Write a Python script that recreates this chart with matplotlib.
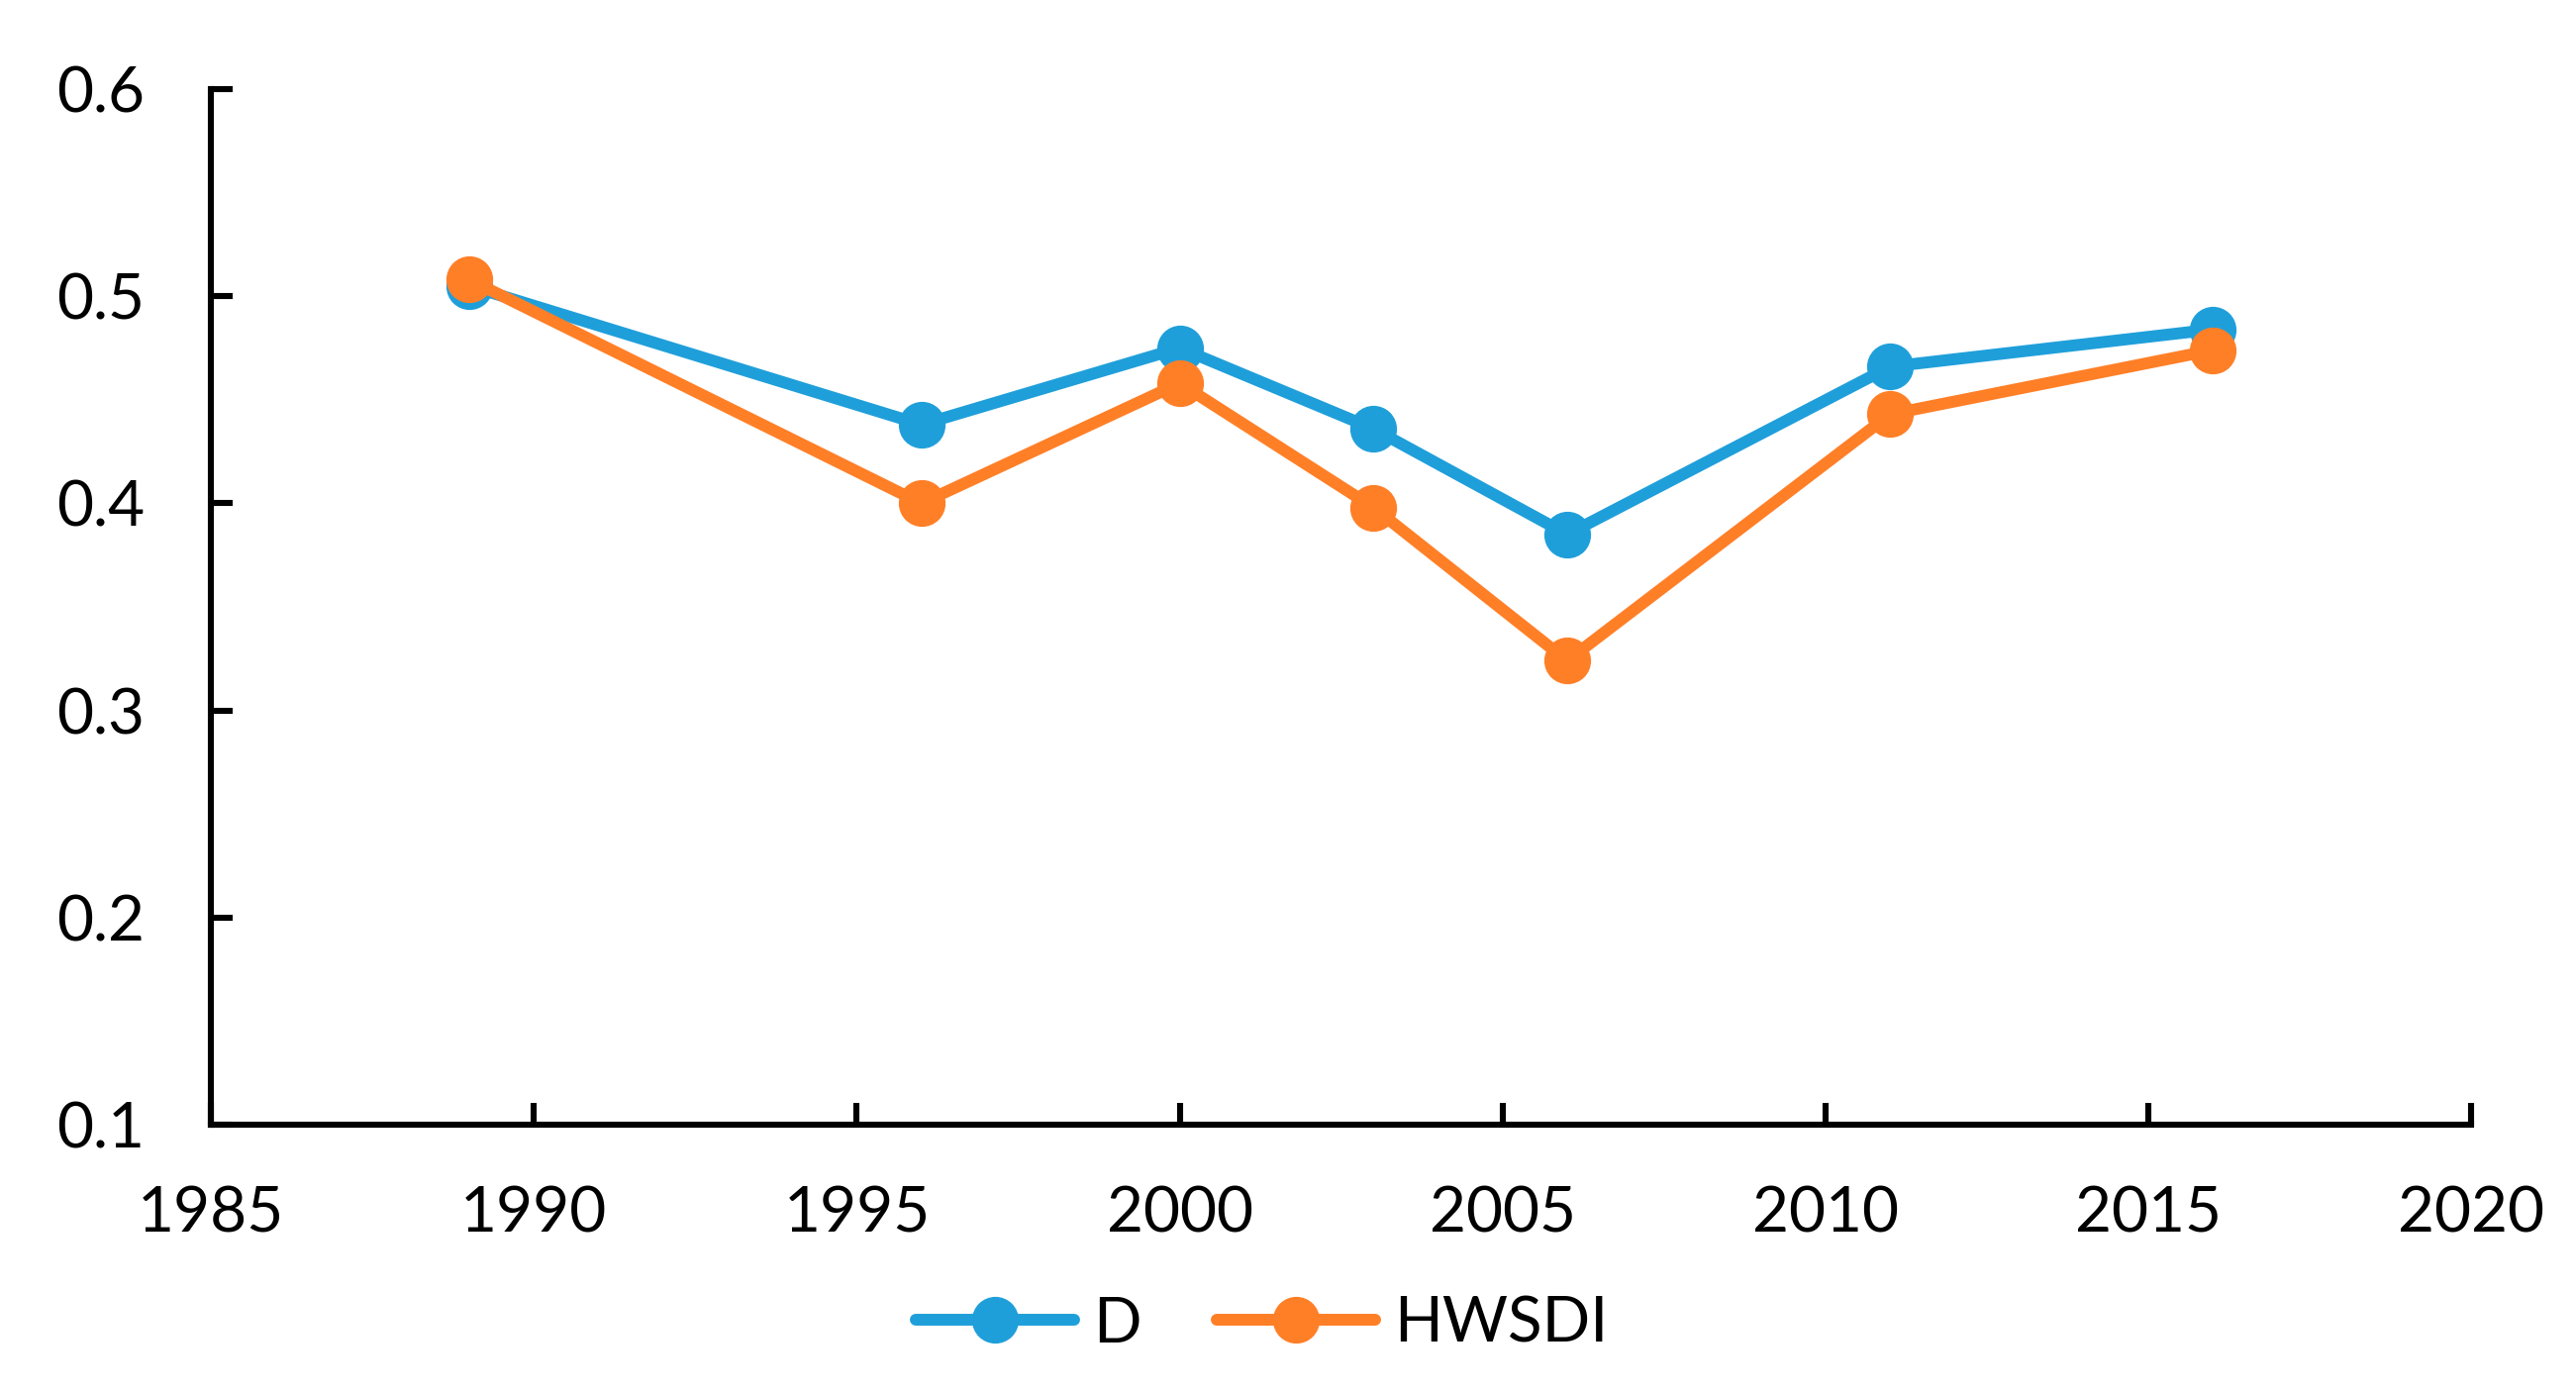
import matplotlib
matplotlib.use("Agg")
import matplotlib.pyplot as plt

years = [1989, 1996, 2000, 2003, 2006, 2011, 2016]
d_vals = [0.505, 0.438, 0.475, 0.436, 0.385, 0.466, 0.484]
hwsdi_vals = [0.508, 0.400, 0.458, 0.398, 0.324, 0.443, 0.474]
x_ticks = [1985, 1990, 1995, 2000, 2005, 2010, 2015, 2020]
y_ticks = [0.1, 0.2, 0.3, 0.4, 0.5, 0.6]

plt.rcParams['font.family'] = ['Lato', 'DejaVu Sans']

fig = plt.figure(figsize=(13.01, 7.03), dpi=200)
ax = fig.add_axes([0.0819, 0.192, 0.8775, 0.744])

ax.plot(years, d_vals, color='#1F9FDA', lw=4.3, marker='o', ms=16,
        label='D', solid_capstyle='round')
ax.plot(years, hwsdi_vals, color='#FF7F27', lw=4.3, marker='o', ms=16,
        label='HWSDI', solid_capstyle='round')

ax.set_xlim(1985, 2020)
ax.set_ylim(0.1, 0.6)
ax.set_xticks(x_ticks)
ax.set_yticks(y_ticks)
ax.set_yticklabels([f"{v:.1f}" for v in y_ticks])

for s in ['top', 'right']:
    ax.spines[s].set_visible(False)
for s in ['left', 'bottom']:
    ax.spines[s].set_linewidth(2.2)
    ax.spines[s].set_color('black')

ax.tick_params(axis='both', direction='in', length=8, width=2.2,
               labelsize=23, colors='black')
ax.tick_params(axis='y', pad=24)
ax.tick_params(axis='x', pad=22)

ax.legend(loc='upper center', bbox_to_anchor=(0.465, -0.11), ncol=2,
          frameon=False, fontsize=23, handlelength=2.5, columnspacing=1.2,
          handletextpad=0.3)

fig.savefig('out.png', dpi=200)
